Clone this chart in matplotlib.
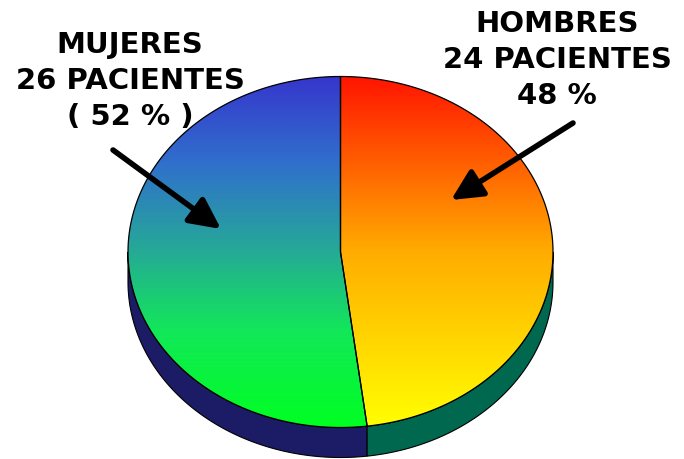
import matplotlib.pyplot as plt
import numpy as np
from matplotlib.patches import Polygon

# datos
grupos = ["HOMBRES", "MUJERES"]
pacientes = [24, 26]
etiquetas = ["HOMBRES\n24 PACIENTES\n48 %", "MUJERES\n26 PACIENTES\n( 52 % )"]

# degradados (posicion vertical, color) de cada sector
grad_hombres = [(0.0, (255, 20, 0)), (0.5, (255, 172, 0)), (1.0, (255, 255, 0))]
grad_mujeres = [(0.0, (54, 54, 204)), (0.25, (48, 112, 204)), (0.5, (37, 170, 150)),
                (0.73, (18, 232, 88)), (1.0, (0, 255, 34))]
lado_hombres = "#00684f"
lado_mujeres = "#1c1c66"

cx, cy = 340.5, 252.0
rx, ry = 212.5, 175.5
prof = 30.0


def punto(t):
    t = np.radians(t)
    return cx + rx * np.cos(t), cy - ry * np.sin(t)


def arco(a1, a2, n=200):
    t = np.linspace(a1, a2, n)
    x, y = punto(t)
    return np.column_stack([x, y])


def degradado(paradas, n=400):
    pos = np.array([p for p, c in paradas])
    cols = np.array([c for p, c in paradas]) / 255.0
    s = np.linspace(0, 1, n)
    img = np.stack([np.interp(s, pos, cols[:, k]) for k in range(3)], axis=1)
    return img[:, None, :]


total = sum(pacientes)
corte = 90 - 360.0 * pacientes[0] / total   # borde entre hombres y mujeres

fig = plt.figure(figsize=(6.84, 4.59), dpi=100)
ax = fig.add_axes([0, 0, 1, 1])
ax.set_xlim(0, 684)
ax.set_ylim(459, 0)
ax.axis("off")

# costado del pastel
for a1, a2, col in [(180, 360 + corte, lado_mujeres), (360 + corte, 360, lado_hombres)]:
    arriba = arco(a1, a2)
    abajo = arriba[::-1] + [0, prof]
    ax.add_patch(Polygon(np.vstack([arriba, abajo]), closed=True, fc=col, ec="black", lw=0.8, zorder=1))

# cara superior con degradado
sectores = [(90, corte, grad_hombres), (90, 360 + corte, grad_mujeres)]
for a1, a2, grad in sectores:
    pts = np.vstack([[cx, cy], arco(a1, a2)])
    poly = Polygon(pts, closed=True, fc="none", ec="black", lw=0.9, zorder=3)
    ax.add_patch(poly)
    im = ax.imshow(degradado(grad), extent=(cx - rx, cx + rx, cy + ry, cy - ry),
                   origin="upper", aspect="auto", zorder=2, interpolation="bilinear")
    im.set_clip_path(poly)

ax.set_xlim(0, 684)
ax.set_ylim(459, 0)

# textos
ax.text(557, 60, etiquetas[0], ha="center", va="center", fontsize=21,
        fontweight="bold", linespacing=1.38, zorder=5)
ax.text(130, 81, etiquetas[1], ha="center", va="center", fontsize=21,
        fontweight="bold", linespacing=1.38, zorder=5)

# flechas
flecha = dict(arrowstyle="-|>,head_length=0.85,head_width=0.42", lw=4, color="black",
              mutation_scale=22, shrinkA=0, shrinkB=0)
ax.annotate("", xy=(451, 200), xytext=(573, 123), arrowprops=flecha, zorder=6)
ax.annotate("", xy=(221, 229), xytext=(113, 150), arrowprops=flecha, zorder=6)

fig.savefig("out.png", dpi=100)
